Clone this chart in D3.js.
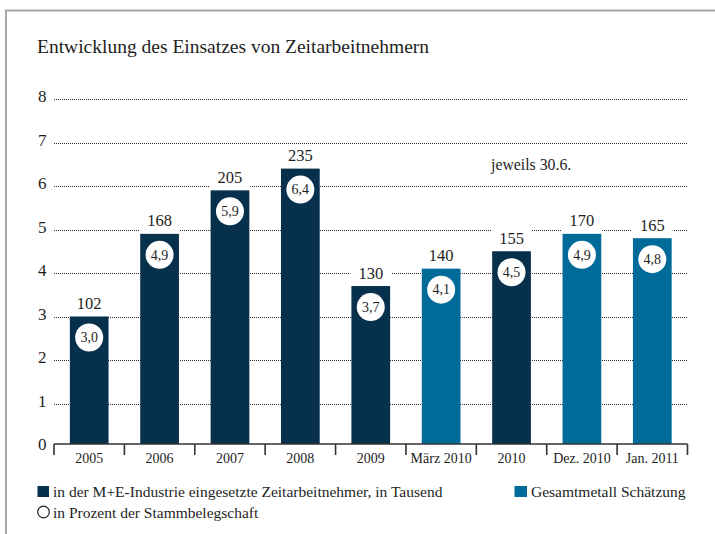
<!DOCTYPE html>
<html>
<head>
<meta charset="utf-8">
<script src="https://cdn.jsdelivr.net/npm/d3@7"></script>
<style>
  html, body { margin: 0; padding: 0; background: #fff; }
  svg { display: block; }
  text { font-family: "Liberation Serif", "Times New Roman", serif; fill: #1e1e1e; }
</style>
</head>
<body>
<svg id="chart" width="715" height="534"></svg>
<script>
const categories = ["2005", "2006", "2007", "2008", "2009", "März 2010", "2010", "Dez. 2010", "Jan. 2011"];
const employees = [102, 168, 205, 235, 130, 140, 155, 170, 165];   // in Tausend
const percentShare = [3.0, 4.9, 5.9, 6.4, 3.7, 4.1, 4.5, 4.9, 4.8]; // in Prozent der Stammbelegschaft
const isEstimate = [false, false, false, false, false, true, false, true, true];
const yTicks = [0, 1, 2, 3, 4, 5, 6, 7, 8];

const colorActual = "#07304d";
const colorEstimate = "#006a98";

const svg = d3.select("#chart");

// frame
svg.append("path")
  .attr("d", "M6,534 V10.5 H715")
  .attr("fill", "none")
  .attr("stroke", "#a8a8a8")
  .attr("stroke-width", 2);

// title
svg.append("text")
  .attr("x", 37).attr("y", 53)
  .style("font-size", "19.5px")
  .text("Entwicklung des Einsatzes von Zeitarbeitnehmern");

const x = d3.scaleBand()
  .domain(categories)
  .range([54, 687.5])
  .paddingInner(0.45)
  .paddingOuter(0.225);

const y = d3.scaleLinear().domain([0, 8]).range([447, 99]);
const axisY = y(0) - 3;

// gridlines
svg.append("g").selectAll("line")
  .data(yTicks.filter(t => t > 0))
  .join("line")
  .attr("x1", 54).attr("x2", 687.5)
  .attr("y1", d => Math.round(y(d)) + 0.5)
  .attr("y2", d => Math.round(y(d)) + 0.5)
  .attr("stroke", "#2a2a2a")
  .attr("stroke-width", 1)
  .attr("stroke-dasharray", "1,1");

// y tick labels
svg.append("g").selectAll("text")
  .data(yTicks)
  .join("text")
  .attr("x", 46.5)
  .attr("y", d => y(d) + 3)
  .attr("text-anchor", "end")
  .style("font-size", "17px")
  .text(d => d);

const data = categories.map((c, i) => ({
  cat: c, count: employees[i], pct: percentShare[i], est: isEstimate[i]
}));

// white backgrounds behind value labels
svg.append("g").selectAll("rect")
  .data(data)
  .join("rect")
  .attr("x", d => x(d.cat) - 1)
  .attr("width", x.bandwidth() + 2)
  .attr("y", d => y(d.pct) - 24)
  .attr("height", 24)
  .attr("fill", "#fff");

// bars
svg.append("g").selectAll("rect")
  .data(data)
  .join("rect")
  .attr("x", d => x(d.cat))
  .attr("width", x.bandwidth())
  .attr("y", d => y(d.pct))
  .attr("height", d => axisY - y(d.pct))
  .attr("fill", d => d.est ? colorEstimate : colorActual);

// x axis
const axisG = svg.append("g");
axisG.append("line")
  .attr("x1", x.range()[0]).attr("x2", x.range()[1])
  .attr("y1", axisY).attr("y2", axisY)
  .attr("stroke", "#333").attr("stroke-width", 1.6);
axisG.selectAll("line.tick")
  .data(d3.range(categories.length + 1))
  .join("line")
  .attr("class", "tick")
  .attr("x1", i => x.range()[0] + i * x.step())
  .attr("x2", i => x.range()[0] + i * x.step())
  .attr("y1", axisY).attr("y2", axisY + 11)
  .attr("stroke", "#333").attr("stroke-width", 1.6);
axisG.selectAll("text")
  .data(categories)
  .join("text")
  .attr("x", d => x(d) + x.bandwidth() / 2)
  .attr("y", axisY + 19)
  .attr("text-anchor", "middle")
  .style("font-size", "14px")
  .text(d => d);

// value labels
svg.append("g").selectAll("text")
  .data(data)
  .join("text")
  .attr("x", d => x(d.cat) + x.bandwidth() / 2)
  .attr("y", d => y(d.pct) - 7.5)
  .attr("text-anchor", "middle")
  .style("font-size", "16.5px")
  .text(d => d.count);

// percentage circles
const circ = svg.append("g").selectAll("g")
  .data(data)
  .join("g")
  .attr("transform", d => `translate(${x(d.cat) + x.bandwidth() / 2},${y(d.pct) + 21})`);
circ.append("circle").attr("r", 14).attr("fill", "#fff");
circ.append("text")
  .attr("y", 4.8)
  .attr("text-anchor", "middle")
  .style("font-size", "14px")
  .text(d => d3.format(".1f")(d.pct).replace(".", ","));

// annotation
svg.append("text")
  .attr("x", 491).attr("y", 170)
  .style("font-size", "15.8px")
  .text("jeweils 30.6.");

// legend
const lg = svg.append("g");
lg.append("rect").attr("x", 37.5).attr("y", 486).attr("width", 11.5).attr("height", 11).attr("fill", colorActual);
lg.append("text").attr("x", 53).attr("y", 497).style("font-size", "15.5px")
  .text("in der M+E-Industrie eingesetzte Zeitarbeitnehmer, in Tausend");
lg.append("circle").attr("cx", 43.5).attr("cy", 512).attr("r", 5.8)
  .attr("fill", "none").attr("stroke", "#222").attr("stroke-width", 1.2);
lg.append("text").attr("x", 53).attr("y", 518).style("font-size", "15.5px")
  .text("in Prozent der Stammbelegschaft");
lg.append("rect").attr("x", 514.5).attr("y", 486).attr("width", 12.5).attr("height", 11).attr("fill", colorEstimate);
lg.append("text").attr("x", 531).attr("y", 497).style("font-size", "15.5px")
  .text("Gesamtmetall Schätzung");
</script>
</body>
</html>
